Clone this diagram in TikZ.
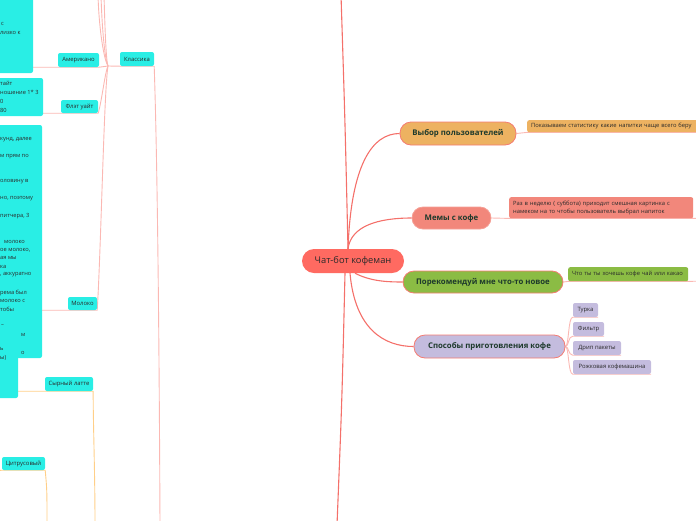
\documentclass[tikz,border=0pt]{standalone}
\usepackage{fontspec}
\setmainfont{Open Sans}
\usetikzlibrary{calc}
\pgfdeclarelayer{bg}
\pgfsetlayers{bg,main}
\definecolor{rootc}{HTML}{FF6A61}
\definecolor{selc}{HTML}{EDB261}
\definecolor{memc}{HTML}{F2877B}
\definecolor{recc}{HTML}{8BBC44}
\definecolor{wayc}{HTML}{C4BCDE}
\definecolor{cyanc}{HTML}{29EEE5}
\definecolor{rline}{HTML}{F4706A}
\definecolor{pline}{HTML}{FBB8B3}
\definecolor{oline}{HTML}{FFCF88}
\definecolor{bord}{HTML}{F47B72}
\definecolor{labc}{HTML}{1E3A2C}
\definecolor{txtc}{HTML}{2A2A2A}
\begin{document}
\begin{tikzpicture}[x=1pt,y=-1pt,
  mainbox/.style={rounded corners=11pt,draw=bord,line width=0.8pt,text=labc,
     font=\fontsize{7.8}{9}\selectfont\bfseries,inner sep=0pt},
  smallbox/.style={rounded corners=2pt,text=txtc,font=\fontsize{5.9}{7.6}\selectfont,inner sep=0pt},
  cyanbox/.style={smallbox,fill=cyanc},
  lavbox/.style={smallbox,fill=wayc},
  textbox/.style={rounded corners=2pt,text=txtc,font=\fontsize{5.8}{8}\selectfont,
     inner xsep=4pt,inner ysep=0pt,align=left,anchor=north west},
  frag/.style={anchor=west,inner sep=0pt,text=txtc,font=\fontsize{5.7}{7}\selectfont},
  rootln/.style={draw=rline,line width=1.1pt},
  pinkln/.style={draw=pline,line width=0.9pt},
  orln/.style={draw=oline,line width=0.9pt}]
\useasboundingbox (0,0) rectangle (696,520);
\clip (0,0) rectangle (696,520);

% root and main branches
\node[rounded corners=12pt,fill=rootc,text=txtc,font=\fontsize{9.3}{11}\selectfont,
  minimum width=102pt,minimum height=24pt,inner sep=0pt] (root) at (353,261) {Чат-бот кофеман};
\node[mainbox,fill=selc,minimum width=116pt,minimum height=23pt] (sel) at (458,133.5) {Выбор пользователей};
\node[mainbox,fill=memc,draw=memc!80!white,minimum width=79pt,minimum height=22pt] (mem) at (451.5,218) {Мемы с кофе};
\node[mainbox,fill=recc,minimum width=160pt,minimum height=22pt] (rec) at (483,282) {Порекомендуй мне что-то новое};
\node[mainbox,fill=wayc,minimum width=151pt,minimum height=23pt] (way) at (489.5,346.5) {Способы приготовления кофе};

% right children
\node[textbox,fill=selc,text width=205pt,minimum height=12pt] (selC) at (527,120) {Показываем статистику какие напитки чаще всего беру};
\node[textbox,fill=memc,text width=176pt,minimum height=21pt] (memC) at (509,197) {Раз в неделю ( суббота) приходит смешная картинка с\\намеком на то чтобы пользователь выбрал напиток};
\node[textbox,fill=recc,text width=112pt,minimum height=14pt] (recC) at (568,267) {Что ты ты хочешь кофе чай или какао};
\node[lavbox,minimum width=25pt,minimum height=14pt] (turk) at (585.5,310) {Турка};
\node[lavbox,minimum width=31pt,minimum height=14pt] (filt) at (588.5,329) {Фильтр};
\node[lavbox,minimum width=48pt,minimum height=14pt] (drip) at (597,348) {Дрип пакеты};
\node[lavbox,minimum width=78pt,minimum height=14pt] (rozh) at (612,367) {Рожковая кофемашина};

% left cluster
\node[cyanbox,minimum width=38pt,minimum height=78pt] (box4) at (-1,359) {};
\node[cyanbox,minimum width=53pt,minimum height=83pt] (box1) at (6.5,31.5) {};
\node[cyanbox,minimum width=63pt,minimum height=38pt] (box2) at (11.5,97) {};
\node[cyanbox,minimum width=62pt,minimum height=233pt] (box3) at (11,241.5) {};
\node[cyanbox,minimum width=34pt,minimum height=14pt] (klass) at (137,59) {Классика};
\node[cyanbox,minimum width=41pt,minimum height=14pt] (ameri) at (78.5,60) {Американо};
\node[cyanbox,minimum width=37pt,minimum height=13pt] (flat) at (79.5,106.5) {Флэт уайт};
\node[cyanbox,minimum width=29pt,minimum height=13pt] (milk) at (82.5,303.5) {Молоко};
\node[cyanbox,minimum width=48pt,minimum height=14pt] (cheese) at (69,384) {Сырный латте};
\node[cyanbox,minimum width=43pt,minimum height=13pt] (citrus) at (23.5,463.5) {Цитрусовый};

% text fragments in the clipped boxes
\node[frag] (a1) at (1,24) {с};
\node[frag] (a2) at (0,33) {лизко к};
\node[frag] (b1) at (0,83) {тайт};
\node[frag] (b2) at (0,92) {ношение 1* 3};
\node[frag] (b3) at (0,101) {0};
\node[frag] (b4) at (0,110) {80};
\node[frag] (c1) at (0,140) {кунд, далее};
\node[frag] (c2) at (0,157) {м прям по};
\node[frag] (c3) at (0,182) {оловину в};
\node[frag] (c4) at (0,199) {но, поэтому};
\node[frag] (c5) at (0,216) {питчера, 3};
\node[frag] (c6) at (4,242) {молоко};
\node[frag] (c7) at (0,250) {ое молоко,};
\node[frag] (c8) at (0,258) {ая мы};
\node[frag] (c9) at (0,266.5) {ка};
\node[frag] (c10) at (0,275) {, аккуратно};
\node[frag] (c11) at (0,293) {рема был};
\node[frag] (c12) at (0,301) {молоко с};
\node[frag] (c13) at (0,309.5) {тобы};
\node[frag] (c14) at (1,326) {–};
\node[frag] (c15) at (21,335) {м};
\node[frag] (d1) at (0,349) {ь};
\node[frag] (d2) at (21,353) {о};
\node[frag] (d3) at (0,357.5) {ы)};

% free ends
\coordinate (topR) at (341,-5);
\coordinate (botR) at (337,525);
\coordinate (J) at (108,66);
\coordinate (t1) at (98,-5);
\coordinate (t2) at (101,-5);
\coordinate (t3) at (104,-5);
\coordinate (kEnd) at (160,525);
\coordinate (chEnd) at (95,525);
\coordinate (ciEnd) at (47,525);
\coordinate (ciL) at (-5,471);
\coordinate (memR) at (705,218);
\coordinate (recR) at (705,281);

\begin{pgfonlayer}{bg}
% root connectors
\draw[rootln] ([xshift=-5pt]root.north) .. controls (345,120) .. (topR);
\draw[rootln] ([xshift=-8pt]root.south) .. controls (342,400) .. (botR);
\draw[rootln] ([xshift=-5pt]root.north) .. controls (351,165) and (372,133.5) .. (sel.west);
\draw[rootln] ([xshift=-5pt]root.north) .. controls (351,226) and (378,218) .. (mem.west);
\draw[rootln] ([xshift=2pt]root.south) .. controls (370,281) and (386,282) .. (rec.west);
\draw[rootln] ([xshift=-3pt]root.south) .. controls (355,330) and (385,346.5) .. (way.west);
% right child connectors
\draw[pinkln] (sel.east) -- (selC.south west) -- (selC.south east);
\draw[pinkln] (mem.east) -- (memC.south west) -- (memC.south east) -- (memR);
\draw[pinkln] (rec.east) -- (recC.south west) -- (recC.south east) -- (recR);
\draw[pinkln] (way.east) .. controls (569,346.5) and (568,317) .. (turk.south west) -- (turk.south east);
\draw[pinkln] (way.east) .. controls (569,346.5) and (568,336) .. (filt.south west) -- (filt.south east);
\draw[pinkln] (way.east) .. controls (569,346.5) and (568,355) .. (drip.south west) -- (drip.south east);
\draw[pinkln] (way.east) .. controls (569,346.5) and (568,374) .. (rozh.south west) -- (rozh.south east);
% left cluster connectors
\draw[pinkln] (J) -- (klass.south west) -- (klass.south east);
\draw[pinkln] (klass.south east) .. controls (157,150) and (159,300) .. (kEnd);
\draw[pinkln] (box1.east |- ameri.south) -- (ameri.south west) -- (ameri.south east) -- (J);
\draw[pinkln] (box2.east |- flat.south) -- (flat.south west) -- (flat.south east) .. controls (102,100) and (105,72) .. (J);
\draw[pinkln] (box3.east |- milk.south) -- (milk.south west) -- (milk.south east) .. controls (101,250) and (104,90) .. (J);
\draw[pinkln] (t1) .. controls (99,30) and (104,60) .. (J);
\draw[pinkln] (t2) .. controls (102,30) and (105,60) .. (J);
\draw[pinkln] (t3) .. controls (105,30) and (106,60) .. (J);
\draw[orln] (box4.east |- cheese.south) -- (cheese.south west) -- (cheese.south east) .. controls (93,420) and (95,470) .. (chEnd);
\draw[orln] (ciL) -- (citrus.south west) -- (citrus.south east) .. controls (47,490) .. (ciEnd);
\end{pgfonlayer}
\end{tikzpicture}
\end{document}
